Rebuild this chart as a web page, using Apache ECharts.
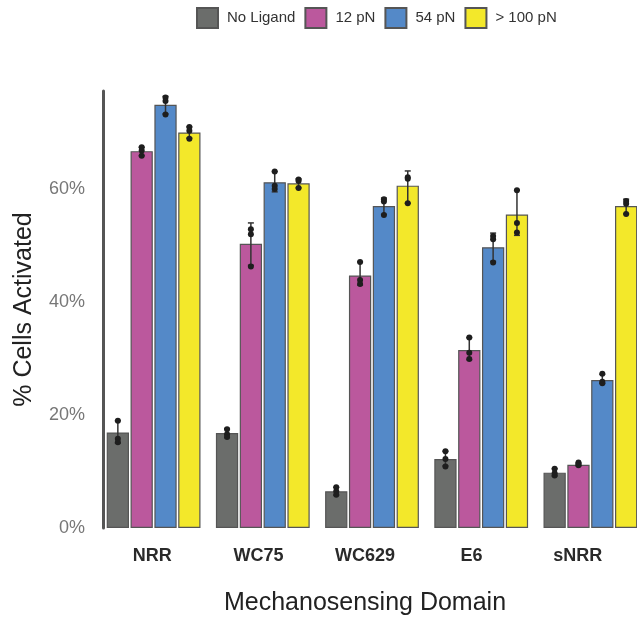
<!DOCTYPE html>
<html>
<head>
<meta charset="utf-8">
<script src="https://cdn.jsdelivr.net/npm/echarts@6/dist/echarts.min.js"></script>
<style>
    html, body { margin: 0; padding: 0; background: #fff; }
    #cn { width: 637px; height: 617px; }
</style>
</head>
<body>
<div id="cn"></div>
<script>
'use strict';

// data (% cells activated)
const domains = ['NRR', 'WC75', 'WC629', 'E6', 'sNRR'];
const ligands = ['No Ligand', '12 pN', '54 pN', '> 100 pN'];

const meanNoLigand = [16.9, 16.8, 6.5, 12.2, 9.8];
const mean12pN = [66.7, 50.3, 44.7, 31.5, 11.2];
const mean54pN = [74.9, 61.2, 57.0, 49.7, 26.2];
const mean100pN = [70.0, 61.0, 60.6, 55.5, 57.0];

// error bar ends [low, high]
const errNoLigand = [[15.0, 19.0], [16.0, 17.6], [5.8, 7.2], [11.0, 13.6], [9.2, 10.5]];
const err12pN = [[65.9, 67.4], [46.5, 54.0], [43.0, 47.1], [29.8, 33.7], [11.0, 11.5]];
const err54pN = [[73.3, 76.4], [59.5, 63.1], [55.5, 58.4], [47.2, 52.2], [25.6, 27.2]];
const err100pN = [[69.0, 71.0], [60.2, 61.8], [57.5, 63.2], [51.8, 59.8], [55.6, 58.2]];

// replicate points
const ptsNoLigand = [[19.0, 15.8, 15.2], [17.5, 16.6, 16.1], [7.2, 6.5, 5.9], [13.6, 12.2, 10.9], [10.5, 9.7, 9.3]];
const pts12pN = [[67.4, 66.8, 65.9], [52.9, 52.0, 46.3], [47.1, 43.9, 43.2], [33.7, 31.0, 29.9], [11.6, 11.3, 11.1]];
const pts54pN = [[76.2, 75.6, 73.2], [63.1, 60.6, 60.0], [58.2, 57.8, 55.4], [51.7, 51.1, 47.0], [27.3, 25.9, 25.6]];
const pts100pN = [[71.0, 70.3, 68.9], [61.7, 61.4, 60.2], [62.1, 61.8, 57.5], [59.8, 54.0, 52.3], [57.9, 57.4, 55.6]];

const yTicks = [0, 20, 40, 60];

const colors = ['#6b6d6b', '#bb589d', '#5489c8', '#f3e82a'];
const means = [meanNoLigand, mean12pN, mean54pN, mean100pN];
const errs = [errNoLigand, err12pN, err54pN, err100pN];
const pts = [ptsNoLigand, pts12pN, pts54pN, pts100pN];

const BAR_W = 0.204;   // bar width, fraction of band
const BAR_GAP = 0.07;  // gap between bars, fraction of bar width
const FONT = '"Liberation Sans", Arial, Helvetica, sans-serif';

// x offset of a dodged bar centre from the band centre
const dodge = (api, s) => {
    const band = api.size([1, 0])[0];
    const bw = band * BAR_W;
    return (s - (ligands.length - 1) / 2) * bw * (1 + BAR_GAP);
};

let errData = [];
let ptData = [];
errs.forEach((arr, s) => {
    arr.forEach((e, i) => errData.push([i, s, e[0], e[1]]));
});
pts.forEach((arr, s) => {
    arr.forEach((p, i) => p.forEach(v => ptData.push([i, s, v])));
});

const chart = echarts.init(document.getElementById('cn'));

const barSeries = ligands.map((name, s) => ({
    name: name,
    type: 'bar',
    data: means[s],
    barWidth: (BAR_W * 100) + '%',
    barGap: (BAR_GAP * 100) + '%',
    itemStyle: {
        color: colors[s],
        borderColor: '#555',
        borderWidth: 1.2
    },
    emphasis: { disabled: true },
    z: 2
}));

const option = {
    animation: false,
    backgroundColor: '#fff',
    textStyle: { fontFamily: FONT },
    legend: {
        data: ligands,
        left: 196,
        top: 7,
        padding: 0,
        itemWidth: 21,
        itemHeight: 20,
        itemGap: 9,
        icon: 'rect',
        textStyle: {
            fontSize: 15,
            color: '#333',
            fontFamily: FONT,
            padding: [0, 0, 0, 4]
        }
    },
    grid: [{
            // the plot runs right up to the edge of the picture
            left: 99,
            width: 546,
            top: 91,
            bottom: 89,
            outerBoundsMode: 'none'
        },
        {
            left: 99,
            width: 532,
            top: 91,
            bottom: 89,
            outerBoundsMode: 'none'
        }
    ],
    xAxis: [{
            type: 'category',
            data: domains,
            gridIndex: 0,
            axisLine: { show: false },
            axisTick: { show: false },
            axisLabel: { show: false }
        },
        {
            // labels and title sit on their own band spacing, as in the figure
            type: 'category',
            data: domains,
            gridIndex: 1,
            axisLine: { show: false },
            axisTick: { show: false },
            axisLabel: {
                margin: 19,
                fontSize: 18,
                fontWeight: 'bold',
                color: '#2a2a2a',
                fontFamily: FONT
            },
            name: 'Mechanosensing Domain',
            nameLocation: 'middle',
            nameGap: 63,
            nameTextStyle: {
                fontSize: 25,
                color: '#222',
                fontFamily: FONT
            }
        }
    ],
    yAxis: [{
            type: 'value',
            gridIndex: 0,
            min: 0,
            max: 77.35,
            interval: 20,
            offset: -4,
            axisLine: {
                show: true,
                lineStyle: { color: '#555', width: 3 }
            },
            axisTick: { show: false },
            splitLine: { show: false },
            axisLabel: {
                margin: 18,
                fontSize: 18,
                color: '#777',
                fontFamily: FONT,
                formatter: v => (yTicks.indexOf(v) >= 0 ? v + '%' : '')
            },
            name: '% Cells Activated',
            nameLocation: 'middle',
            nameGap: 66,
            nameTextStyle: {
                fontSize: 25,
                color: '#222',
                fontFamily: FONT
            }
        },
        {
            type: 'value',
            gridIndex: 1,
            min: 0,
            max: 77.35,
            show: false
        }
    ],
    series: [
        ...barSeries,
        {
            name: 'err',
            type: 'custom',
            data: errData,
            encode: { x: 0, y: [2, 3] },
            z: 5,
            silent: true,
            renderItem: (params, api) => {
                const s = api.value(1);
                const lo = api.coord([api.value(0), api.value(2)]);
                const hi = api.coord([api.value(0), api.value(3)]);
                const x = lo[0] + dodge(api, s);
                const cap = 3;
                const st = { stroke: '#333', lineWidth: 1.5 };
                return {
                    type: 'group',
                    children: [
                        { type: 'line', shape: { x1: x, y1: lo[1], x2: x, y2: hi[1] }, style: st },
                        { type: 'line', shape: { x1: x - cap, y1: lo[1], x2: x + cap, y2: lo[1] }, style: st },
                        { type: 'line', shape: { x1: x - cap, y1: hi[1], x2: x + cap, y2: hi[1] }, style: st }
                    ]
                };
            }
        },
        {
            name: 'pts',
            type: 'custom',
            data: ptData,
            encode: { x: 0, y: 2 },
            z: 6,
            silent: true,
            renderItem: (params, api) => {
                const s = api.value(1);
                const p = api.coord([api.value(0), api.value(2)]);
                return {
                    type: 'circle',
                    shape: { cx: p[0] + dodge(api, s), cy: p[1], r: 3 },
                    style: { fill: '#1e1e1e' }
                };
            }
        }
    ]
};

chart.setOption(option);
</script>
</body>
</html>
